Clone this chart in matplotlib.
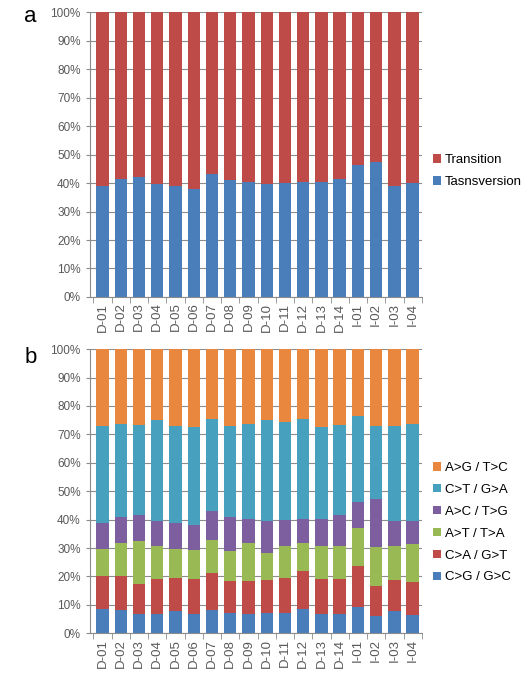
"""Stacked percentage bars: transition/transversion (a) and substitution spectrum (b)."""

import matplotlib

matplotlib.use("Agg")

import matplotlib.pyplot as plt  # noqa: E402
import numpy as np  # noqa: E402
from matplotlib.ticker import PercentFormatter  # noqa: E402

samples = ["D-01", "D-02", "D-03", "D-04", "D-05", "D-06", "D-07", "D-08", "D-09",
           "D-10", "D-11", "D-12", "D-13", "D-14", "I-01", "I-02", "I-03", "I-04"]

# panel a (percent)
transversion = [39.0, 41.3, 42.0, 39.6, 39.0, 38.0, 43.2, 40.9, 40.2,
                39.5, 40.0, 40.2, 40.4, 41.4, 46.5, 47.3, 39.1, 40.0]
transition = [100 - v for v in transversion]

# panel b (percent, bottom to top)
cg_gc = [8.7, 8.3, 6.8, 6.8, 8.0, 6.8, 8.3, 7.0, 6.8, 7.0, 7.0, 8.5, 6.8, 6.8, 9.4, 6.1, 7.7, 6.5]
ca_gt = [11.3, 11.7, 10.7, 12.4, 11.3, 12.3, 12.9, 11.3, 11.6, 11.9, 12.3, 13.5, 12.4, 12.4, 14.2, 10.6, 11.2, 11.5]
at_ta = [9.7, 11.6, 14.9, 11.5, 10.2, 10.1, 11.8, 10.6, 13.2, 9.4, 11.4, 9.6, 11.5, 11.5, 13.5, 13.7, 11.8, 13.3]
ac_tg = [9.2, 9.4, 9.3, 8.8, 9.4, 9.0, 10.0, 12.0, 8.5, 11.2, 9.0, 8.5, 9.4, 10.8, 9.2, 16.8, 8.8, 8.2]
ct_ga = [34.1, 32.7, 31.5, 35.5, 34.0, 34.3, 32.5, 32.0, 33.5, 35.5, 34.6, 35.3, 32.5, 31.8, 30.0, 25.7, 33.4, 34.1]
ag_tc = [100 - sum(v) for v in zip(cg_gc, ca_gt, at_ta, ac_tg, ct_ga)]

spectrum = [
    ("C>G / G>C", cg_gc, "#4A7EBB"),
    ("C>A / G>T", ca_gt, "#BE4B48"),
    ("A>T / T>A", at_ta, "#98B954"),
    ("A>C / T>G", ac_tg, "#7D5FA0"),
    ("C>T / G>A", ct_ga, "#46A0BE"),
    ("A>G / T>C", ag_tc, "#E9873F"),
]

plt.rcParams["font.family"] = ["Liberation Sans", "DejaVu Sans"]
grey = "#595959"

x = np.arange(len(samples))
width = 0.68


def style_axis(ax):
    ax.set_ylim(0, 100)
    ax.set_xlim(-0.7, len(samples) - 0.73)
    ax.set_yticks(np.arange(0, 101, 10))
    ax.yaxis.set_major_formatter(PercentFormatter(decimals=0))
    ax.set_xticks(x)
    ax.set_xticklabels(samples, rotation=90)
    ax.set_xticks(np.arange(-0.5, len(samples), 1), minor=True)
    ax.tick_params(axis="y", labelsize=8.5, colors=grey, length=3, color="#8c8c8c")
    ax.tick_params(axis="x", which="major", labelsize=9.5, colors=grey, length=0, pad=4)
    ax.tick_params(axis="x", which="minor", length=4, color="#8c8c8c")
    ax.grid(axis="y", color="#8c8c8c", linewidth=0.8)
    ax.set_axisbelow(True)
    for side in ("top", "right"):
        ax.spines[side].set_visible(False)
    for side in ("left", "bottom"):
        ax.spines[side].set_color("#8c8c8c")


fig = plt.figure(figsize=(5.22, 6.78), dpi=100)
ax_a = fig.add_axes([0.172, 0.562, 0.636, 0.420])
ax_b = fig.add_axes([0.172, 0.066, 0.636, 0.419])

ax_a.bar(x, transversion, width, color="#4A7EBB", label="Tasnsversion")
ax_a.bar(x, transition, width, bottom=transversion, color="#BE4B48", label="Transition")
style_axis(ax_a)
h, l = ax_a.get_legend_handles_labels()
ax_a.legend(h[::-1], l[::-1], loc="center left", bbox_to_anchor=(1.01, 0.442),
            frameon=False, fontsize=9.5, handlelength=0.6, handleheight=0.6,
            handletextpad=0.3, labelspacing=0.75, borderaxespad=0.2)

bottom = np.zeros(len(samples))
for name, vals, color in spectrum:
    ax_b.bar(x, vals, width, bottom=bottom, color=color, label=name)
    bottom += np.array(vals)
style_axis(ax_b)
h, l = ax_b.get_legend_handles_labels()
ax_b.legend(h[::-1], l[::-1], loc="center left", bbox_to_anchor=(1.01, 0.389),
            frameon=False, fontsize=9.5, handlelength=0.6, handleheight=0.6,
            handletextpad=0.3, labelspacing=0.75, borderaxespad=0.2)

fig.text(0.058, 0.975, "a", fontsize=16, ha="center", va="center")
fig.text(0.058, 0.472, "b", fontsize=16, ha="center", va="center")

fig.savefig("out.png", dpi=100)
print("saved out.png")
